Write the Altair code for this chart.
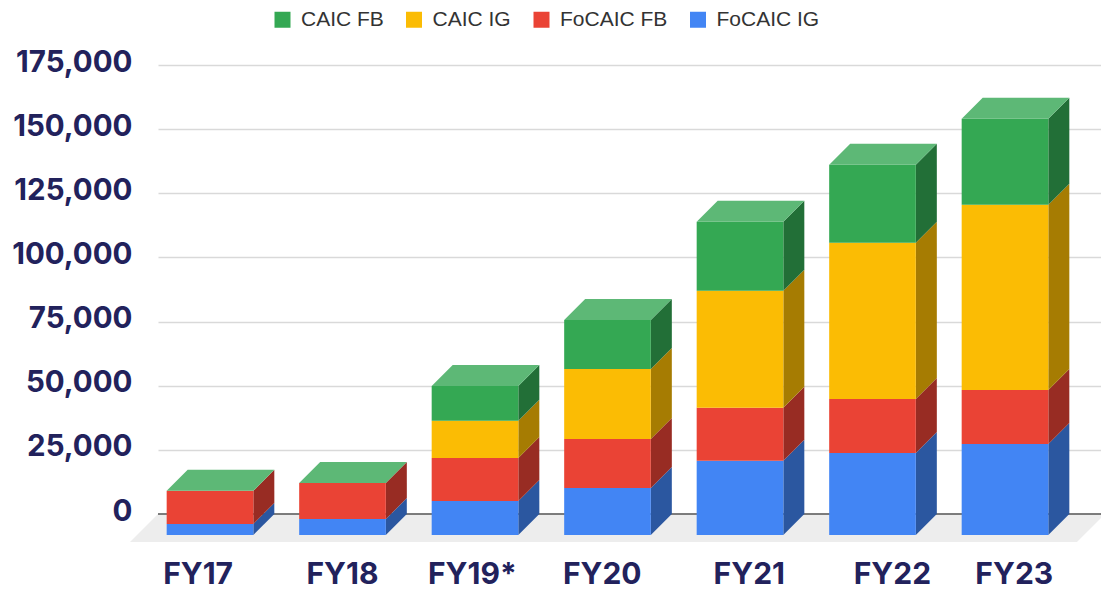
import altair as alt
import pandas as pd

years = ["FY17", "FY18", "FY19*", "FY20", "FY21", "FY22", "FY23"]
focaic_ig = [4300, 6200, 13300, 18300, 28900, 32000, 35500]
focaic_fb = [12900, 14100, 16700, 19100, 20700, 21000, 21000]
caic_ig = [0, 0, 14500, 27300, 45600, 60900, 72200]
caic_fb = [0, 0, 13600, 19100, 26900, 30400, 33500]
series_names = ["FoCAIC IG", "FoCAIC FB", "CAIC IG", "CAIC FB"]
series_values = [focaic_ig, focaic_fb, caic_ig, caic_fb]
legend_order = ["CAIC FB", "CAIC IG", "FoCAIC FB", "FoCAIC IG"]
front_colors = {"CAIC FB": "#34A853", "CAIC IG": "#FBBC04", "FoCAIC FB": "#EA4335", "FoCAIC IG": "#4285F4"}
side_colors = {"CAIC FB": "#226F37", "CAIC IG": "#A67C02", "FoCAIC FB": "#982C23", "FoCAIC IG": "#2B57A0"}
top_color = "#5DB876"
navy = "#22225C"
label_slots = [-0.09, 1.0, 1.98, 2.96, 4.07, 5.15, 6.07]
label_level = -23900

half = 0.327
dx = 0.1585
dy = 8185

front, sides, tops = [], [], []
for i, year in enumerate(years):
    base = 0
    for name, vals in zip(series_names, series_values):
        v = vals[i]
        if v > 0:
            t = base + v
            front.append(dict(series=name, year=year, x=i - half, x2=i + half, y=base - dy, y2=t - dy))
            key = f"{year}-{name}"
            sides.append(dict(series=name, key=key, x=i + half, y=base - dy, y2=t - dy))
            sides.append(dict(series=name, key=key, x=i + half + dx, y=base, y2=t))
            base = t
    tops.append(dict(key=year, y=base - dy, x=i - half, x2=i + half))
    tops.append(dict(key=year, y=base, x=i - half + dx, x2=i + half + dx))

xs = alt.Scale(domain=[-0.3925, 6.7547], nice=False, zero=False, padding=0)
ys = alt.Scale(domain=[0, 175000], nice=False, zero=False, padding=0)
X = lambda f="x": alt.X(f"{f}:Q", scale=xs, axis=None)
Y = lambda: alt.Y("y:Q", scale=ys, title=None, axis=alt.Axis(
    values=list(range(0, 175001, 25000)), format=",d", grid=True, gridColor="#D9D9D9", gridWidth=1.5,
    domain=False, ticks=False, labelFont="Inter", labelFontWeight="bold", labelFontSize=29.5,
    labelColor=navy, labelPadding=26, labelOffset=-3))

floor_df = pd.DataFrame([
    dict(y=-10900, x=-0.604, x2=6.543),
    dict(y=0, x=-0.3925, x2=6.7547),
])
floor = alt.Chart(floor_df).mark_area(orient="horizontal", color="#EDEDED").encode(
    x=X(), x2="x2:Q", y=Y())
zero = alt.Chart(pd.DataFrame([dict(y=0, x=-0.3925, x2=6.7547)])).mark_rule(color="#555555", strokeWidth=1.5).encode(
    x=X(), x2="x2:Q", y=Y())

side_layers = []
sdf = pd.DataFrame(sides)
for name in series_names:
    side_layers.append(
        alt.Chart(sdf[sdf.series == name]).mark_area(orient="vertical", color=side_colors[name]).encode(
            x=X(), y=Y(), y2="y2:Q", detail="key:N"))

bars = alt.Chart(pd.DataFrame(front)).mark_bar().encode(
    x=X(), x2="x2:Q", y=Y(), y2="y2:Q",
    color=alt.Color("series:N",
        scale=alt.Scale(domain=legend_order, range=[front_colors[n] for n in legend_order]),
        legend=alt.Legend(orient="none", legendX=114, legendY=-56, direction="horizontal", columns=4, title=None,
                          symbolType="square", symbolSize=256, symbolStrokeWidth=0, symbolOpacity=1,
                          labelFont="Liberation Sans", labelFontSize=21, labelColor="#333333",
                          labelOffset=8, columnPadding=19.5)))

top = alt.Chart(pd.DataFrame(tops)).mark_area(orient="horizontal", color=top_color).encode(
    x=X(), x2="x2:Q", y=Y(), detail="key:N")

labels_df = pd.DataFrame(dict(x=label_slots, y=[label_level] * len(years), t=years))
labels = alt.Chart(labels_df).mark_text(font="Inter", fontWeight="bold", fontSize=30, color=navy, align="center", baseline="middle").encode(
    x=X(), y=Y(), text="t:N")

chart = alt.layer(floor, zero, *side_layers, bars, top, labels).properties(
    width=947, height=449,
    autosize=alt.AutoSizeParams(type="none"),
    padding={"left": 150, "top": 57, "right": -4, "bottom": 78},
).configure_view(stroke=None)

chart.save("out.html", embed_options={"renderer": "svg", "actions": False})
